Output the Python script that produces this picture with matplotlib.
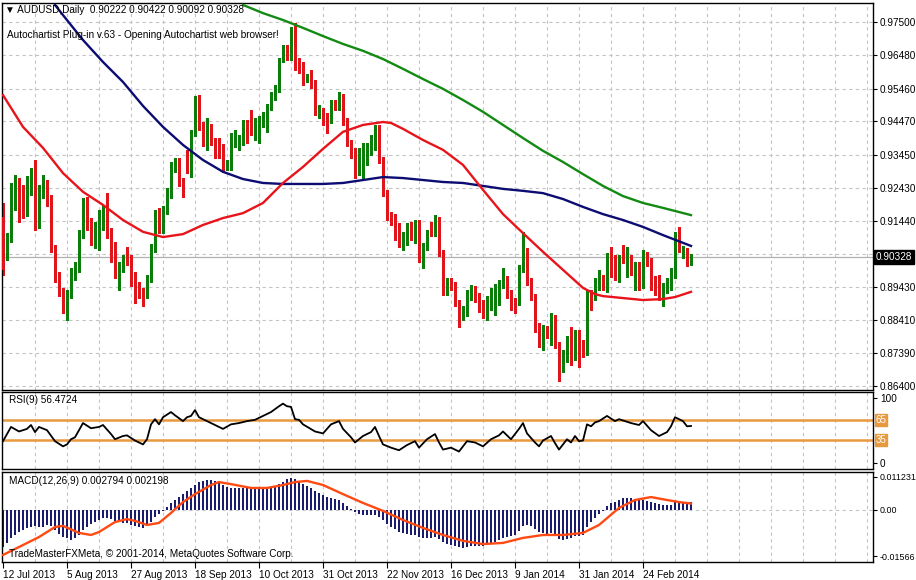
import numpy as np
import matplotlib
matplotlib.use("Agg")
import matplotlib.pyplot as plt
from matplotlib.transforms import blended_transform_factory

plt.rcParams['font.family'] = ['Liberation Sans', 'DejaVu Sans']

# ---- daily AUDUSD candles (bar 0 = 12 Jul 2013)
opens = [0.9155, 0.9033, 0.9085, 0.9192, 0.9253, 0.9238, 0.9171, 0.9238, 0.9305, 0.9131,
         0.9232, 0.9247, 0.9201, 0.9061, 0.8975, 0.8927, 0.8893, 0.8917, 0.8978, 0.8994,
         0.9100, 0.9192, 0.9140, 0.9100, 0.9116, 0.9134, 0.9183, 0.9106, 0.9070, 0.8957,
         0.9003, 0.9033, 0.9024, 0.8975, 0.8939, 0.8927, 0.8917, 0.8969, 0.9061, 0.9167,
         0.9116, 0.9177, 0.9222, 0.9308, 0.9323, 0.9262, 0.9323, 0.9314, 0.9411, 0.9512,
         0.9430, 0.9390, 0.9427, 0.9384, 0.9366, 0.9366, 0.9308, 0.9308, 0.9381, 0.9375,
         0.9384, 0.9427, 0.9427, 0.9415, 0.9442, 0.9442, 0.9421, 0.9488, 0.9518, 0.9543,
         0.9634, 0.9665, 0.9643, 0.9701, 0.9625, 0.9613, 0.9576, 0.9579, 0.9567, 0.9472,
         0.9476, 0.9457, 0.9451, 0.9503, 0.9497, 0.9521, 0.9445, 0.9381, 0.9354, 0.9299,
         0.9305, 0.9329, 0.9360, 0.9375, 0.9427, 0.9329, 0.9228, 0.9161, 0.9152, 0.9125,
         0.9076, 0.9091, 0.9122, 0.9100, 0.9131, 0.9024, 0.9061, 0.9122, 0.9106, 0.9146,
         0.9045, 0.8933, 0.8957, 0.8942, 0.8893, 0.8856, 0.8862, 0.8911, 0.8927, 0.8911,
         0.8893, 0.8856, 0.8893, 0.8881, 0.8908, 0.8954, 0.8963, 0.8923, 0.8893, 0.8896,
         0.8994, 0.9049, 0.8957, 0.8911, 0.8820, 0.8765, 0.8808, 0.8801, 0.8847, 0.8765,
         0.8698, 0.8728, 0.8774, 0.8734, 0.8795, 0.8765, 0.8744, 0.8923, 0.8923, 0.8942,
         0.8954, 0.8942, 0.9033, 0.9024, 0.8978, 0.9061, 0.9018, 0.9024, 0.8994, 0.9009,
         0.8972, 0.9033, 0.9018, 0.8963, 0.8969, 0.8893, 0.8933, 0.8942, 0.8978, 0.9091,
         0.9045, 0.9049, 0.90222]
highs = [0.9198, 0.9106, 0.9259, 0.9283, 0.9274, 0.9253, 0.9280, 0.9305, 0.9329, 0.9253,
         0.9283, 0.9268, 0.9222, 0.9070, 0.8988, 0.8939, 0.8933, 0.9000, 0.9018, 0.9116,
         0.9213, 0.9216, 0.9152, 0.9140, 0.9177, 0.9192, 0.9228, 0.9122, 0.9079, 0.9018,
         0.9039, 0.9064, 0.9039, 0.8988, 0.8957, 0.8939, 0.8978, 0.9073, 0.9177, 0.9183,
         0.9189, 0.9244, 0.9323, 0.9335, 0.9335, 0.9274, 0.9360, 0.9421, 0.9524, 0.9527,
         0.9445, 0.9457, 0.9439, 0.9396, 0.9396, 0.9378, 0.9329, 0.9411, 0.9421, 0.9405,
         0.9451, 0.9451, 0.9482, 0.9457, 0.9463, 0.9476, 0.9500, 0.9537, 0.9558, 0.9640,
         0.9680, 0.9680, 0.9735, 0.9747, 0.9640, 0.9628, 0.9591, 0.9604, 0.9573, 0.9497,
         0.9488, 0.9472, 0.9512, 0.9512, 0.9537, 0.9530, 0.9457, 0.9390, 0.9366, 0.9366,
         0.9381, 0.9381, 0.9405, 0.9436, 0.9436, 0.9338, 0.9238, 0.9171, 0.9164, 0.9137,
         0.9110, 0.9137, 0.9140, 0.9146, 0.9146, 0.9076, 0.9116, 0.9140, 0.9161, 0.9155,
         0.9055, 0.8969, 0.8969, 0.8957, 0.8902, 0.8884, 0.8933, 0.8948, 0.8945, 0.8923,
         0.8902, 0.8914, 0.8939, 0.8951, 0.8963, 0.9000, 0.8975, 0.8933, 0.8908, 0.9009,
         0.9110, 0.9061, 0.8969, 0.8920, 0.8832, 0.8826, 0.8823, 0.8862, 0.8856, 0.8774,
         0.8750, 0.8792, 0.8820, 0.8811, 0.8811, 0.8780, 0.8933, 0.8933, 0.8969, 0.8994,
         0.8978, 0.9045, 0.9064, 0.9039, 0.9039, 0.9070, 0.9064, 0.9039, 0.9018, 0.9018,
         0.9055, 0.9049, 0.9030, 0.8975, 0.8978, 0.8954, 0.8969, 0.9000, 0.9110, 0.9125,
         0.9067, 0.9061, 0.90422]
lows = [0.8978, 0.9024, 0.9079, 0.9177, 0.9140, 0.9152, 0.9158, 0.9222, 0.9116, 0.9122,
        0.9213, 0.9189, 0.9049, 0.8957, 0.8914, 0.8862, 0.8841, 0.8908, 0.8963, 0.8988,
        0.9091, 0.9116, 0.9070, 0.9061, 0.9055, 0.9116, 0.9091, 0.9018, 0.8969, 0.8933,
        0.8988, 0.9009, 0.8945, 0.8893, 0.8908, 0.8884, 0.8908, 0.8957, 0.9049, 0.9106,
        0.9106, 0.9164, 0.9213, 0.9293, 0.9250, 0.9216, 0.9289, 0.9277, 0.9402, 0.9421,
        0.9372, 0.9360, 0.9375, 0.9335, 0.9335, 0.9293, 0.9299, 0.9299, 0.9369, 0.9360,
        0.9375, 0.9381, 0.9405, 0.9390, 0.9381, 0.9430, 0.9415, 0.9482, 0.9512, 0.9537,
        0.9628, 0.9634, 0.9634, 0.9604, 0.9594, 0.9558, 0.9567, 0.9549, 0.9466, 0.9457,
        0.9436, 0.9411, 0.9442, 0.9482, 0.9482, 0.9436, 0.9372, 0.9335, 0.9274, 0.9283,
        0.9274, 0.9314, 0.9344, 0.9360, 0.9320, 0.9219, 0.9146, 0.9131, 0.9085, 0.9064,
        0.9055, 0.9070, 0.9085, 0.9076, 0.9018, 0.9000, 0.9055, 0.9097, 0.9097, 0.9036,
        0.8917, 0.8917, 0.8933, 0.8884, 0.8820, 0.8841, 0.8853, 0.8902, 0.8896, 0.8866,
        0.8847, 0.8841, 0.8872, 0.8856, 0.8887, 0.8939, 0.8908, 0.8872, 0.8862, 0.8887,
        0.8988, 0.8948, 0.8902, 0.8805, 0.8759, 0.8750, 0.8786, 0.8765, 0.8756, 0.8655,
        0.8683, 0.8713, 0.8704, 0.8719, 0.8698, 0.8728, 0.8734, 0.8872, 0.8902, 0.8933,
        0.8933, 0.8927, 0.8972, 0.8963, 0.8957, 0.9015, 0.8972, 0.8978, 0.8933, 0.8933,
        0.8939, 0.9006, 0.8933, 0.8917, 0.8902, 0.8884, 0.8923, 0.8933, 0.8969, 0.9049,
        0.9030, 0.9006, 0.90092]
closes = [0.8994, 0.9091, 0.9247, 0.9268, 0.9167, 0.9177, 0.9268, 0.9293, 0.9128, 0.9238,
          0.9253, 0.9198, 0.9055, 0.8972, 0.8923, 0.8893, 0.8914, 0.8978, 0.9000, 0.9100,
          0.9198, 0.9140, 0.9100, 0.9116, 0.9137, 0.9183, 0.9100, 0.9061, 0.8988, 0.9003,
          0.9021, 0.9024, 0.8957, 0.8939, 0.8923, 0.8893, 0.8969, 0.9061, 0.9167, 0.9116,
          0.9177, 0.9228, 0.9308, 0.9323, 0.9262, 0.9238, 0.9314, 0.9411, 0.9512, 0.9430,
          0.9384, 0.9445, 0.9384, 0.9360, 0.9354, 0.9308, 0.9317, 0.9396, 0.9405, 0.9390,
          0.9430, 0.9421, 0.9421, 0.9442, 0.9451, 0.9460, 0.9488, 0.9518, 0.9549, 0.9634,
          0.9671, 0.9643, 0.9701, 0.9610, 0.9610, 0.9567, 0.9579, 0.9564, 0.9476, 0.9479,
          0.9451, 0.9427, 0.9503, 0.9497, 0.9521, 0.9445, 0.9381, 0.9350, 0.9299, 0.9354,
          0.9354, 0.9366, 0.9390, 0.9427, 0.9329, 0.9228, 0.9161, 0.9146, 0.9125, 0.9076,
          0.9094, 0.9106, 0.9100, 0.9131, 0.9024, 0.9064, 0.9100, 0.9106, 0.9146, 0.9045,
          0.8933, 0.8957, 0.8948, 0.8893, 0.8850, 0.8866, 0.8917, 0.8927, 0.8908, 0.8887,
          0.8862, 0.8902, 0.8923, 0.8933, 0.8939, 0.8963, 0.8923, 0.8893, 0.8878, 0.8994,
          0.9079, 0.8957, 0.8911, 0.8817, 0.8771, 0.8811, 0.8801, 0.8850, 0.8765, 0.8667,
          0.8728, 0.8774, 0.8734, 0.8795, 0.8740, 0.8744, 0.8923, 0.8902, 0.8954, 0.8954,
          0.8942, 0.9033, 0.9018, 0.8972, 0.9030, 0.9024, 0.9024, 0.8994, 0.9003, 0.8972,
          0.9045, 0.9015, 0.8963, 0.8933, 0.8908, 0.8939, 0.8948, 0.8984, 0.9085, 0.9061,
          0.9049, 0.9018, 0.90328]

# moving averages (bar index, value)
ma_red_bars = [0, 5, 10, 15, 20, 25, 30, 35, 40, 45, 50, 55, 60, 65, 70, 75, 80, 85, 90, 95,
               97, 100, 105, 110, 115, 120, 125, 130, 135, 140, 145, 148, 150, 155, 160, 165, 168, 172]
ma_red = [0.9527, 0.9430, 0.9366, 0.9289, 0.9232, 0.9192, 0.9146, 0.9110, 0.9094, 0.9103,
          0.9131, 0.9152, 0.9167, 0.9198, 0.9259, 0.9308, 0.9363, 0.9415, 0.9436, 0.9445,
          0.9442, 0.9424, 0.9390, 0.9360, 0.9314, 0.9238, 0.9164, 0.9106, 0.9049, 0.8994,
          0.8939, 0.8920, 0.8914, 0.8908, 0.8902, 0.8905, 0.8911, 0.8927]
ma_blue_bars = [13, 15, 20, 25, 30, 35, 40, 45, 50, 55, 60, 65, 70, 80, 85, 90, 95, 100, 105,
                110, 115, 120, 125, 130, 135, 140, 145, 150, 155, 160, 165, 172]
ma_blue = [0.9802, 0.9771, 0.9695, 0.9628, 0.9567, 0.9494, 0.9430, 0.9375, 0.9329, 0.9293,
           0.9271, 0.9259, 0.9256, 0.9256, 0.9259, 0.9268, 0.9277, 0.9274, 0.9268, 0.9262,
           0.9259, 0.9250, 0.9241, 0.9235, 0.9228, 0.9210, 0.9186, 0.9164, 0.9146, 0.9125,
           0.9100, 0.9067]
ma_green_bars = [60, 65, 70, 75, 80, 85, 90, 95, 100, 105, 110, 115, 120, 125, 130, 135, 140,
                 145, 150, 155, 160, 165, 172]
ma_green = [0.9802, 0.9777, 0.9756, 0.9732, 0.9707, 0.9683, 0.9662, 0.9637, 0.9607, 0.9576,
            0.9546, 0.9512, 0.9476, 0.9436, 0.9396, 0.9357, 0.9323, 0.9286, 0.9250, 0.9219,
            0.9198, 0.9183, 0.9161]

# RSI(9)
rsi_bars = [0, 2, 4, 6, 7, 8, 9, 11, 13, 15, 16, 17, 18, 20, 22, 24, 25, 27, 28, 30, 31, 33,
            35, 36, 37, 38, 39, 40, 42, 43, 45, 46, 47, 48, 49, 50, 52, 55, 57, 59, 61, 63,
            65, 67, 69, 70, 71, 72, 73, 74, 75, 78, 80, 82, 84, 85, 87, 88, 90, 92, 93, 94,
            95, 97, 99, 101, 103, 104, 106, 108, 109, 110, 112, 114, 116, 118, 120, 122, 124,
            125, 127, 129, 130, 131, 133, 134, 135, 137, 138, 139, 141, 142, 143, 144, 145,
            146, 147, 148, 149, 151, 153, 154, 157, 159, 160, 162, 164, 166, 167, 168, 170,
            171, 172]
rsi_vals = [33, 55, 48, 52, 58, 47, 55, 50, 33, 25, 28, 36, 39, 61, 53, 55, 58, 44, 36, 41,
            42, 34, 28, 36, 59, 67, 59, 70, 78, 73, 64, 70, 72, 81, 70, 67, 61, 52, 59, 61,
            64, 66, 72, 78, 87, 91, 87, 86, 67, 66, 59, 48, 45, 59, 64, 52, 39, 31, 41, 47,
            55, 41, 28, 23, 19, 27, 33, 23, 36, 44, 31, 20, 23, 17, 33, 31, 25, 36, 42, 48,
            36, 52, 61, 45, 31, 25, 34, 41, 30, 20, 36, 31, 41, 33, 34, 59, 56, 62, 64, 72,
            64, 67, 61, 58, 64, 50, 41, 47, 56, 70, 64, 56, 56.4724]
rsi_levels = [65, 35]

# MACD(12,26,9): main as histogram, signal as line
macd_main = [-0.0126, -0.0112, -0.0095, -0.0085, -0.0075, -0.0068, -0.0061, -0.0058, -0.0054, -0.0058,
             -0.0058, -0.0051, -0.0054, -0.0068, -0.0082, -0.0092, -0.0095, -0.0102, -0.0095, -0.0085,
             -0.0068, -0.0058, -0.0048, -0.0041, -0.0034, -0.0027, -0.0027, -0.0031, -0.0037, -0.0041,
             -0.0044, -0.0044, -0.0051, -0.0054, -0.0058, -0.0061, -0.0054, -0.0041, -0.0024, -0.0014,
             -0.0003, 0.0010, 0.0024, 0.0034, 0.0044, 0.0054, 0.0065, 0.0075, 0.0085, 0.0095,
             0.0099, 0.0102, 0.0102, 0.0099, 0.0092, 0.0085, 0.0078, 0.0075, 0.0075, 0.0075,
             0.0075, 0.0075, 0.0075, 0.0075, 0.0075, 0.0075, 0.0075, 0.0078, 0.0082, 0.0088,
             0.0095, 0.0105, 0.0109, 0.0105, 0.0095, 0.0088, 0.0082, 0.0075, 0.0065, 0.0058,
             0.0051, 0.0044, 0.0041, 0.0037, 0.0034, 0.0024, 0.0014, 0.0003, -0.0007, -0.0014,
             -0.0017, -0.0017, -0.0017, -0.0017, -0.0024, -0.0034, -0.0048, -0.0058, -0.0065, -0.0075,
             -0.0078, -0.0082, -0.0085, -0.0085, -0.0092, -0.0095, -0.0095, -0.0095, -0.0092, -0.0099,
             -0.0109, -0.0116, -0.0119, -0.0122, -0.0126, -0.0129, -0.0126, -0.0122, -0.0122, -0.0122,
             -0.0122, -0.0119, -0.0116, -0.0109, -0.0102, -0.0095, -0.0092, -0.0088, -0.0085, -0.0071,
             -0.0054, -0.0051, -0.0054, -0.0065, -0.0075, -0.0078, -0.0082, -0.0078, -0.0085, -0.0099,
             -0.0102, -0.0099, -0.0095, -0.0088, -0.0088, -0.0085, -0.0058, -0.0041, -0.0027, -0.0014,
             -0.0003, 0.0014, 0.0024, 0.0027, 0.0034, 0.0041, 0.0041, 0.0041, 0.0037, 0.0034,
             0.0034, 0.0031, 0.0027, 0.0024, 0.0020, 0.0017, 0.0017, 0.0017, 0.0027, 0.0027,
             0.0027, 0.0027, 0.002794]
signal_bars = [0, 4, 9, 13, 15, 19, 22, 24, 28, 31, 33, 36, 39, 42, 45, 48, 52, 54, 57, 62, 66,
               70, 73, 76, 80, 85, 90, 95, 100, 105, 110, 115, 120, 125, 130, 135, 140, 145,
               149, 154, 158, 162, 166, 169, 172]
signal_vals = [-0.0153, -0.0126, -0.0092, -0.0058, -0.0054, -0.0078, -0.0085, -0.0075, -0.0041,
               -0.0031, -0.0037, -0.0051, -0.0044, -0.0010, 0.0027, 0.0054, 0.0085, 0.0095,
               0.0088, 0.0075, 0.0075, 0.0085, 0.0095, 0.0099, 0.0085, 0.0054, 0.0024, -0.0003,
               -0.0034, -0.0061, -0.0085, -0.0105, -0.0116, -0.0112, -0.0095, -0.0085, -0.0085,
               -0.0078, -0.0051, 0.0007, 0.0034, 0.0044, 0.0034, 0.0027, 0.002198]

price_ticks = [0.97500, 0.96480, 0.95460, 0.94470, 0.93450, 0.92430, 0.91440,
               0.89430, 0.88410, 0.87390, 0.86400]
price_grid = price_ticks + [0.90420]
last_price = 0.90328
date_bars = [0, 16, 32, 48, 64, 80, 96, 112, 128, 144, 160]
date_labels = ['12 Jul 2013', '5 Aug 2013', '27 Aug 2013', '18 Sep 2013', '10 Oct 2013',
               '31 Oct 2013', '22 Nov 2013', '16 Dec 2013', '9 Jan 2014', '31 Jan 2014',
               '24 Feb 2014']

W, H = 916, 580
fig = plt.figure(figsize=(W / 100, H / 100), dpi=100)
fig.patch.set_facecolor('white')


def box(x0, y0, x1, y1):
    return [x0 / W, 1 - y1 / H, (x1 - x0) / W, (y1 - y0) / H]


ax = fig.add_axes(box(2, 3, 873, 390))
ax_rsi = fig.add_axes(box(2, 392, 873, 469), sharex=ax)
ax_macd = fig.add_axes(box(2, 472, 873, 562), sharex=ax)

grid_kw = dict(color='#c4c4c4', lw=0.8, ls=(0, (3, 3)), zorder=0)
for a in (ax, ax_rsi, ax_macd):
    for b in range(8, 218, 8):
        a.axvline(b, **grid_kw)
    for s in a.spines.values():
        s.set_color('black')
        s.set_linewidth(1)
    a.yaxis.tick_right()
    a.tick_params(axis='y', length=3, pad=2, labelsize=7.2, colors='black')
    a.tick_params(axis='x', length=0)
    a.set_xlim(-0.25, 217.5)

# ---- main price panel
for p in price_grid:
    ax.axhline(p, **grid_kw)
ax.axhline(last_price, color='#b0b0b0', lw=0.9, zorder=1)

o = np.array(opens)
c = np.array(closes)
h = np.array(highs)
l = np.array(lows)
idx = np.arange(len(c))
col = np.where(c >= o, '#0b7d0b', '#e0141b')
ax.vlines(idx, l, h, colors=col, lw=1, zorder=2, antialiased=False)
ax.bar(idx, np.maximum(np.abs(c - o), 0.0001), bottom=np.minimum(o, c), width=0.7,
       color=col, linewidth=0, zorder=3, antialiased=False)

ax.plot(ma_green_bars, ma_green, color='#138a13', lw=1.7, zorder=4)
ax.plot(ma_blue_bars, ma_blue, color='#0c0c72', lw=1.7, zorder=4)
ax.plot(ma_red_bars, ma_red, color='#e8141b', lw=1.7, zorder=4)

ax.set_ylim(0.86276, 0.98079)
ax.set_yticks(price_ticks)
ax.set_yticklabels(['%.5f' % t for t in price_ticks])
ax.tick_params(axis='x', labelbottom=False)
tr = blended_transform_factory(ax.transAxes, ax.transData)
ax.text(1.003, last_price, '%.5f' % last_price, transform=tr, fontsize=7.2, color='white',
        va='center', ha='left', bbox=dict(boxstyle='square,pad=0.2', fc='black', ec='black'))

fig.text(5 / W, 1 - 10 / H, '\u25BC AUDUSD,Daily  0.90222 0.90422 0.90092 0.90328',
         fontsize=7.2, va='center', ha='left')
fig.text(7 / W, 1 - 35 / H, 'Autochartist Plug-in v.63 - Opening Autochartist web browser!',
         fontsize=7.2, va='center', ha='left')

# ---- RSI panel
for lv in rsi_levels:
    ax_rsi.axhline(lv, color='#e6993f', lw=1.8, zorder=2)
ax_rsi.plot(rsi_bars, rsi_vals, color='black', lw=1.3, zorder=3)
ax_rsi.set_ylim(-10, 109)
ax_rsi.set_yticks([0, 100])
ax_rsi.set_yticklabels(['0', '100'])
ax_rsi.tick_params(axis='x', labelbottom=False)
tr = blended_transform_factory(ax_rsi.transAxes, ax_rsi.transData)
for lv in rsi_levels:
    ax_rsi.text(1.003, lv, str(lv), transform=tr, fontsize=7, color='white', va='center',
                ha='left', bbox=dict(boxstyle='square,pad=0.1', fc='#e6993f', ec='#e6993f'))
ax_rsi.text(7 / 871, 0.9, 'RSI(9) 56.4724', transform=ax_rsi.transAxes, fontsize=7.2,
            va='center', ha='left')

# ---- MACD panel
ax_macd.axhline(0, **grid_kw)
ax_macd.bar(idx, macd_main, width=0.7, color='#1b1b6e', linewidth=0, zorder=2,
            antialiased=False)
ax_macd.plot(signal_bars, signal_vals, color='#ff4a12', lw=1.7, zorder=3)
ax_macd.set_ylim(-0.0177, 0.01293)
ax_macd.set_yticks([0.011231, 0.0, -0.01566])
ax_macd.set_yticklabels(['0.011231', '0.00', '-0.01566'])
ax_macd.tick_params(axis='y', labelsize=6.4, pad=1.5)
ax_macd.set_xticks(date_bars)
ax_macd.set_xticklabels(date_labels, ha='left')
ax_macd.tick_params(axis='x', length=4, pad=2, labelsize=7.2, direction='out')
ax_macd.text(7 / 871, 0.9, 'MACD(12,26,9) 0.002794 0.002198', transform=ax_macd.transAxes,
             fontsize=7.2, va='center', ha='left')
ax_macd.text(7 / 871, 0.09, 'TradeMasterFXMeta, \u00a9 2001-2014, MetaQuotes Software Corp.',
             transform=ax_macd.transAxes, fontsize=7.2, va='center', ha='left')

fig.savefig('out.png', dpi=100)
